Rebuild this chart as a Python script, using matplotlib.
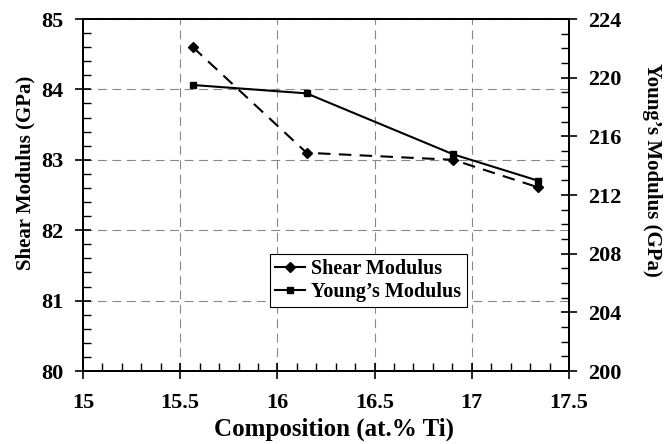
import matplotlib
matplotlib.use("Agg")
import matplotlib.pyplot as plt
from matplotlib.lines import Line2D
from matplotlib.ticker import MultipleLocator

plt.rcParams['font.family'] = ['Liberation Serif', 'DejaVu Serif']
plt.rcParams['font.weight'] = 'bold'

# data
composition = [15.565, 16.15, 16.905, 17.34]
shear_modulus = [84.60, 83.10, 83.00, 82.61]
youngs_modulus = [219.5, 218.93, 214.77, 212.98]

fig = plt.figure(figsize=(6.72, 4.44), dpi=100)
ax = fig.add_axes([0.1235, 0.1644, 0.7232, 0.7928])
ax2 = ax.twinx()

ax.plot(composition, shear_modulus, color='black', linestyle=(0, (6, 4)), lw=1.5,
        marker='D', markersize=5, zorder=3)
ax2.plot(composition, youngs_modulus, color='black', linestyle='-', lw=1.5,
         marker='s', markersize=4.5, zorder=3)

ax.set_xlim(15, 17.5)
ax.set_ylim(80, 85)
ax2.set_ylim(200, 224)

ax.xaxis.set_major_locator(MultipleLocator(0.5))
ax.xaxis.set_minor_locator(MultipleLocator(0.1))
ax.yaxis.set_major_locator(MultipleLocator(1))
ax.yaxis.set_minor_locator(MultipleLocator(0.2))
ax2.yaxis.set_major_locator(MultipleLocator(4))
ax2.yaxis.set_minor_locator(MultipleLocator(1))

ax.set_xticks([15, 15.5, 16, 16.5, 17, 17.5])
ax.set_xticklabels(['15', '15.5', '16', '16.5', '17', '17.5'])

ax.tick_params(axis='x', which='major', direction='inout', length=12, width=1.2,
               labelsize=16, pad=10, top=False)
ax.tick_params(axis='x', which='minor', direction='in', length=6, width=1, top=False)
ax.tick_params(axis='y', which='major', direction='inout', length=12, width=1.2,
               labelsize=16, pad=8, right=False)
ax.tick_params(axis='y', which='minor', direction='in', length=6, width=1, right=False)
ax2.tick_params(axis='y', which='major', direction='inout', length=12, width=1.2,
                labelsize=16, pad=8)
ax2.tick_params(axis='y', which='minor', direction='in', length=6, width=1)

for a in (ax, ax2):
    for sp in a.spines.values():
        sp.set_linewidth(1.4)

ax.grid(True, which='major', color='#888888', linestyle=(0, (8, 5)), lw=0.8)

ax.set_xlabel('Composition (at.% Ti)', fontsize=18, fontweight='bold')
ax.set_ylabel('Shear Modulus (GPa)', fontsize=15, fontweight='bold')
ax2.set_ylabel("Young\u2019s Modulus (GPa)", fontsize=15, fontweight='bold',
               rotation=270)
ax.xaxis.set_label_coords(0.516, -0.131)
ax.yaxis.set_label_coords(-0.097, 0.5625)
ax2.yaxis.set_label_coords(1.191, 0.571)

handles = [
    Line2D([], [], color='black', lw=1.5, marker='D', markersize=5),
    Line2D([], [], color='black', lw=1.5, marker='s', markersize=4.5),
]
leg = ax2.legend(handles, ['Shear Modulus', "Young\u2019s Modulus"],
                 loc='upper left', bbox_to_anchor=(0.385, 0.332),
                 prop={'family': 'Liberation Serif', 'weight': 'bold', 'size': 14.5},
                 handlelength=1.5, handletextpad=0.3, borderpad=0.25,
                 labelspacing=0.15, fancybox=False, framealpha=1,
                 edgecolor='black', borderaxespad=0)
leg.get_frame().set_linewidth(0.8)

fig.savefig('out.png', dpi=100)
